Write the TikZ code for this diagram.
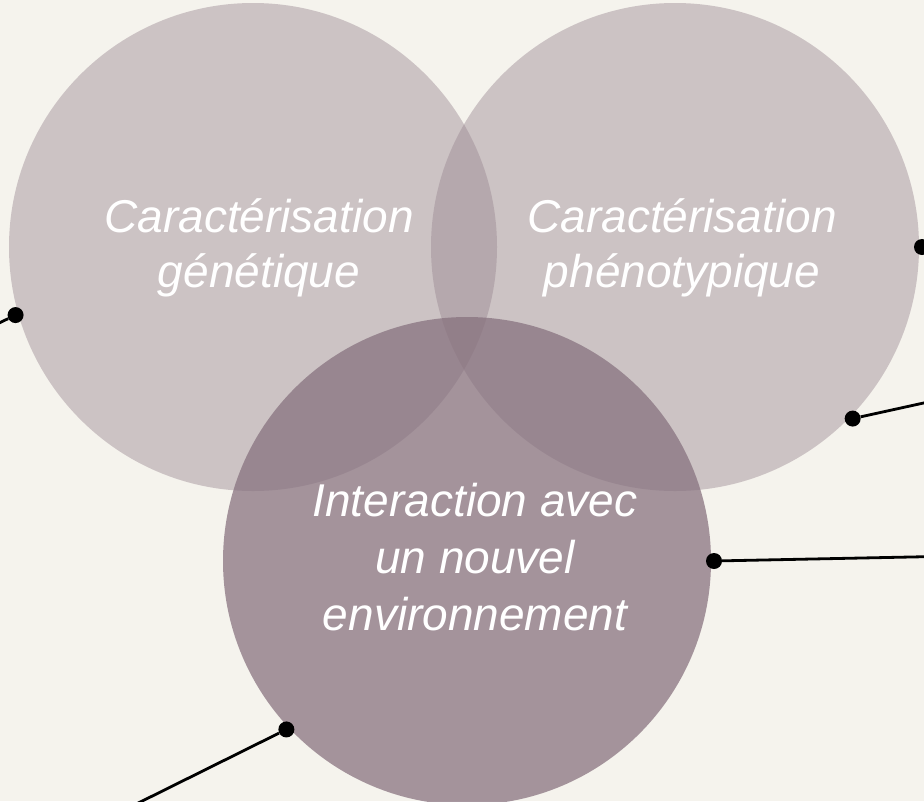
\documentclass[tikz,border=0pt]{standalone}
\usepackage{fontspec}
\setmainfont{Liberation Sans}
\definecolor{papier}{RGB}{245,243,237}
\definecolor{mauveclair}{RGB}{152,134,144}
\definecolor{mauvefonce}{RGB}{134,112,125}

\begin{document}
\begin{tikzpicture}[x=1pt, y=-1pt]
	\tikzset{
		bulle/.style={circle, minimum size=488pt, inner sep=0pt, outer sep=3pt},
		etiquette/.style={text=white, align=center, font=\fontsize{46}{55}\selectfont\itshape},
		pastille/.style={circle, fill=black, minimum size=16pt, inner sep=0pt},
		trait/.style={line width=2.8pt}
	}

	\useasboundingbox (0, 0) rectangle (924, 801);
	\clip (0, 0) rectangle (924, 801);
	\fill[papier] (0, 0) rectangle (924, 801);

	\node[bulle, fill=mauveclair, fill opacity=0.44] (gen) at (253, 247) {};
	\node[bulle, fill=mauveclair, fill opacity=0.44] (phen) at (675, 247) {};
	\node[bulle, fill=mauvefonce, fill opacity=0.73] (env) at (467, 561) {};

	\node[etiquette, xshift=6pt, yshift=-1pt] (tgen) at (gen) {Caractérisation\\génétique};
	\node[etiquette, xshift=7pt, yshift=-1pt] (tphen) at (phen) {Caractérisation\\phénotypique};
	\node[etiquette, xshift=8pt, yshift=4pt, font=\fontsize{46}{57}\selectfont\itshape] (tenv) at (env) {Interaction avec\\un nouvel\\environnement};

	\coordinate (q1) at (-30, 337);
	\coordinate (q2) at (960, 242);
	\coordinate (q3) at (960, 395);
	\coordinate (q4) at (960, 556);
	\coordinate (q5) at (100, 822);

	\node[pastille] (p1) at (gen.196) {};
	\node[pastille] (p2) at (phen.0) {};
	\node[pastille] (p3) at (phen.-44) {};
	\node[pastille] (p4) at (env.0) {};
	\node[pastille] (p5) at (env.223.5) {};

	\foreach \p/\q in {p1/q1, p2/q2, p3/q3, p4/q4, p5/q5}
	\draw[trait] (\p) -- (\q);
\end{tikzpicture}
\end{document}
